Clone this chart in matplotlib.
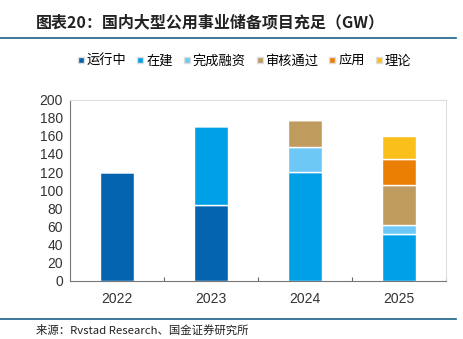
import matplotlib.pyplot as plt
from matplotlib.lines import Line2D
import numpy as np

plt.rcParams['font.family'] = ['Noto Sans CJK SC', 'DejaVu Sans']

years = ['2022', '2023', '2024', '2025']
series = ['运行中', '在建', '完成融资', '审核通过', '应用', '理论']
yunxing = [120, 84, 0, 0]
zaijian = [0, 87, 120, 52]
rongzi = [0, 0, 28, 10]
shenhe = [0, 0, 30, 44]
yingyong = [0, 0, 0, 28]
lilun = [0, 0, 0, 26]
colors = ['#0464AF', '#00A0E6', '#6DC8F5', '#BF9B5E', '#EA7F03', '#F9C01B']

fig = plt.figure(figsize=(4.64, 3.39), dpi=100)
ax = fig.add_axes([70/464, 1-280.7/339, 376/464, 181/339])

x = np.arange(len(years)) + 0.5
bottom = np.zeros(len(years))
for name, vals, c in zip(series, [yunxing, zaijian, rongzi, shenhe, yingyong, lilun], colors):
    v = np.array(vals, dtype=float)
    ax.bar(x, v, 0.37, bottom=bottom, color=c, edgecolor='white', linewidth=1, label=name)
    bottom += v

num_font = ['Liberation Sans', 'DejaVu Sans']
ax.set_xlim(0, 4)
ax.set_ylim(0, 200)
ax.set_yticks(range(0, 201, 20))
ax.set_yticklabels([str(v) for v in range(0, 201, 20)], family=num_font, fontsize=10)
ax.tick_params(axis='y', length=0, colors='#333333', pad=5)
ax.set_xticks([1, 2, 3, 4])
ax.set_xticks(x, minor=True)
ax.set_xticklabels([])
ax.set_xticklabels(years, minor=True, family=num_font, fontsize=10)
ax.tick_params(axis='x', which='major', length=3, direction='in', color='#666666')
ax.tick_params(axis='x', which='minor', length=0, colors='#333333', pad=8)
for s in ['left', 'bottom']:
    ax.spines[s].set_color('#777777')
for s in ['top', 'right']:
    ax.spines[s].set_color('#dddddd')

handles = [Line2D([], [], marker='s', color='none', markerfacecolor=c, markeredgecolor='#dddddd',
                  markersize=5, label=n) for n, c in zip(series, colors)]
fig.legend(handles=handles, loc='center', bbox_to_anchor=(244/464, 1-61/339), ncol=6, frameon=False,
           fontsize=9.5, handlelength=0.6, handletextpad=0.15, columnspacing=0.75)

fig.text(36/464, 1-22/339, '图表20：国内大型公用事业储备项目充足（GW）', fontsize=11.5, fontweight='bold',
         color='#222222', va='center', style='italic')
fig.add_artist(Line2D([0, 456/464], [1-38/339, 1-38/339], color='#1F5F8B', linewidth=1.2))
fig.add_artist(Line2D([0, 456/464], [1-319/339, 1-319/339], color='#1F5F8B', linewidth=1.2))
fig.text(36/464, 1-330/339, '来源：Rvstad Research、国金证券研究所', fontsize=8.2, color='#222222', va='center')

fig.savefig('out.png', dpi=100)
